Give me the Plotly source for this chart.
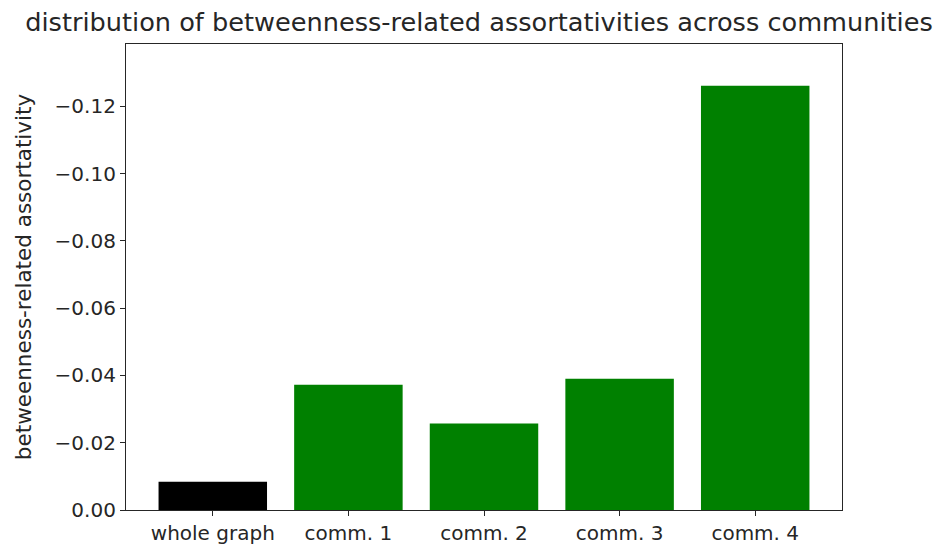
import plotly.graph_objects as go

# assortativity values per group (negative values, axis drawn inverted)
categories = ["whole graph", "comm. 1", "comm. 2", "comm. 3", "comm. 4"]
assortativity = [-0.0084, -0.0372, -0.0257, -0.0390, -0.1261]
bar_colors = ["black", "green", "green", "green", "green"]
y_ticks = [0.0, -0.02, -0.04, -0.06, -0.08, -0.10, -0.12]

text_color = "#262626"
font_family = "DejaVu Sans"

fig = go.Figure(
    go.Bar(
        x=list(range(len(categories))),
        y=assortativity,
        marker=dict(color=bar_colors, line=dict(width=0)),
        width=0.8,
    )
)

fig.update_layout(
    width=945,
    height=550,
    margin=dict(l=126, r=103, t=44, b=40),
    plot_bgcolor="white",
    paper_bgcolor="white",
    showlegend=False,
    font=dict(family=font_family, color=text_color, size=20),
    title=dict(
        text="distribution of betweenness-related assortativities across communities",
        x=479 / 945,
        xanchor="center",
        y=1 - 22 / 550,
        yanchor="middle",
        font=dict(size=25.6, family=font_family, color=text_color),
    ),
)

fig.update_xaxes(
    range=[-0.64, 4.64],
    tickmode="array",
    tickvals=list(range(len(categories))),
    ticktext=categories,
    ticks="outside",
    ticklen=5,
    tickwidth=1,
    tickcolor=text_color,
    showline=True,
    linecolor=text_color,
    linewidth=1.2,
    mirror=True,
    showgrid=False,
    zeroline=False,
    automargin=False,
    tickfont=dict(size=20),
)

fig.update_yaxes(
    range=[0, -0.1385],
    tickmode="array",
    tickvals=y_ticks,
    tickformat=".2f",
    ticks="outside",
    ticklen=5,
    tickwidth=1,
    tickcolor=text_color,
    showline=True,
    linecolor=text_color,
    linewidth=1.2,
    mirror=True,
    showgrid=False,
    zeroline=False,
    automargin=False,
    tickfont=dict(size=20),
    title=dict(text="betweenness-related assortativity", font=dict(size=21.5), standoff=17),
)

fig.write_html("out.html")
